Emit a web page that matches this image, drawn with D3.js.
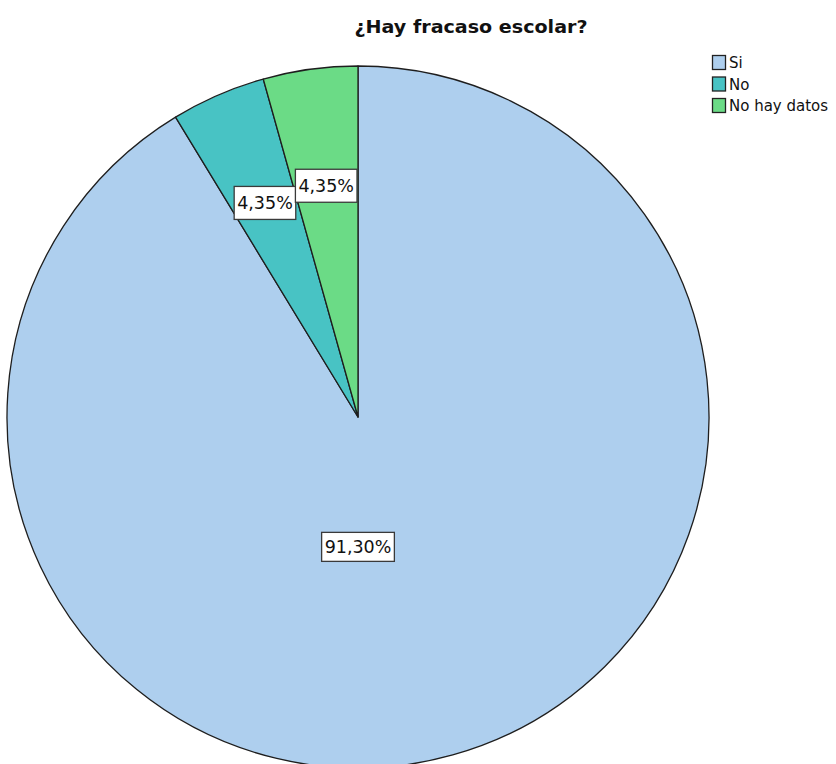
<!DOCTYPE html>
<html>
<head>
<meta charset="utf-8">
<script src="https://cdn.jsdelivr.net/npm/d3@7"></script>
<style>
  html, body { margin: 0; padding: 0; background: #fff; }
  svg { display: block; }
</style>
</head>
<body>
<svg id="chart" width="836" height="764"></svg>
<script>
// Answers to the survey question
const categories = ["Si", "No", "No hay datos"];
const percents = [91.30, 4.35, 4.35];
const colors = ["#aecfee", "#48c3c4", "#6bdb86"];
const title = "¿Hay fracaso escolar?";

const svg = d3.select("#chart");
const cx = 358, cy = 417, R = 351;

// Title
svg.append("text")
  .attr("x", 471).attr("y", 33)
  .attr("text-anchor", "middle")
  .attr("font-family", "DejaVu Sans, Verdana, sans-serif")
  .attr("font-weight", "bold")
  .attr("font-size", 17.5)
  .attr("fill", "#111")
  .attr("textLength", 233)
  .attr("lengthAdjust", "spacingAndGlyphs")
  .text(title);

// Pie
const pie = d3.pie().sort(null).value(d => d.value);
const data = categories.map((c, i) => ({ name: c, value: percents[i], color: colors[i] }));
const arcs = pie(data);
const arc = d3.arc().innerRadius(0).outerRadius(R);

const g = svg.append("g").attr("transform", `translate(${cx},${cy})`);
g.selectAll("path.slice")
  .data(arcs)
  .join("path")
  .attr("class", "slice")
  .attr("d", arc)
  .attr("fill", d => d.data.color)
  .attr("stroke", "#1e1e1e")
  .attr("stroke-width", 1.3)
  .attr("stroke-linejoin", "round");

// Value labels
const fmt = v => d3.format(".2f")(v).replace(".", ",") + "%";
const labelRadius = [0.37, 0.665, 0.665];
const labelAngle = [Math.PI, null, null]; // null: slice mid-angle

arcs.forEach((a, i) => {
  const ang = labelAngle[i] != null ? labelAngle[i] : (a.startAngle + a.endAngle) / 2;
  const r = R * labelRadius[i];
  const x = Math.sin(ang) * r;
  const y = -Math.cos(ang) * r;
  const lg = g.append("g").attr("transform", `translate(${x},${y})`);
  const rect = lg.append("rect");
  const t = lg.append("text")
    .attr("text-anchor", "middle")
    .attr("dominant-baseline", "central")
    .attr("font-family", "DejaVu Sans, Verdana, sans-serif")
    .attr("font-size", 17.5)
    .attr("fill", "#111")
    .text(fmt(a.data.value));
  const bb = t.node().getBBox();
  const w = bb.width + 6;
  const h = i === 0 ? 29 : 33;
  rect.attr("x", -w / 2).attr("y", -h / 2)
    .attr("width", w)
    .attr("height", h)
    .attr("fill", "#fff")
    .attr("stroke", "#3a3a3a")
    .attr("stroke-width", 1.3);
});

// Legend
const legend = svg.append("g").attr("transform", "translate(712,55)");
const rows = legend.selectAll("g.row")
  .data(data)
  .join("g")
  .attr("class", "row")
  .attr("transform", (d, i) => `translate(0,${i * 21.5})`);
rows.append("rect")
  .attr("x", 0.5).attr("y", 0.5)
  .attr("width", 13).attr("height", 14)
  .attr("fill", d => d.color)
  .attr("stroke", "#222")
  .attr("stroke-width", 1.3);
rows.append("text")
  .attr("x", 17).attr("y", 13)
  .attr("font-family", "DejaVu Sans, Verdana, sans-serif")
  .attr("font-size", 15)
  .attr("fill", "#111")
  .text(d => d.name);
</script>
</body>
</html>
